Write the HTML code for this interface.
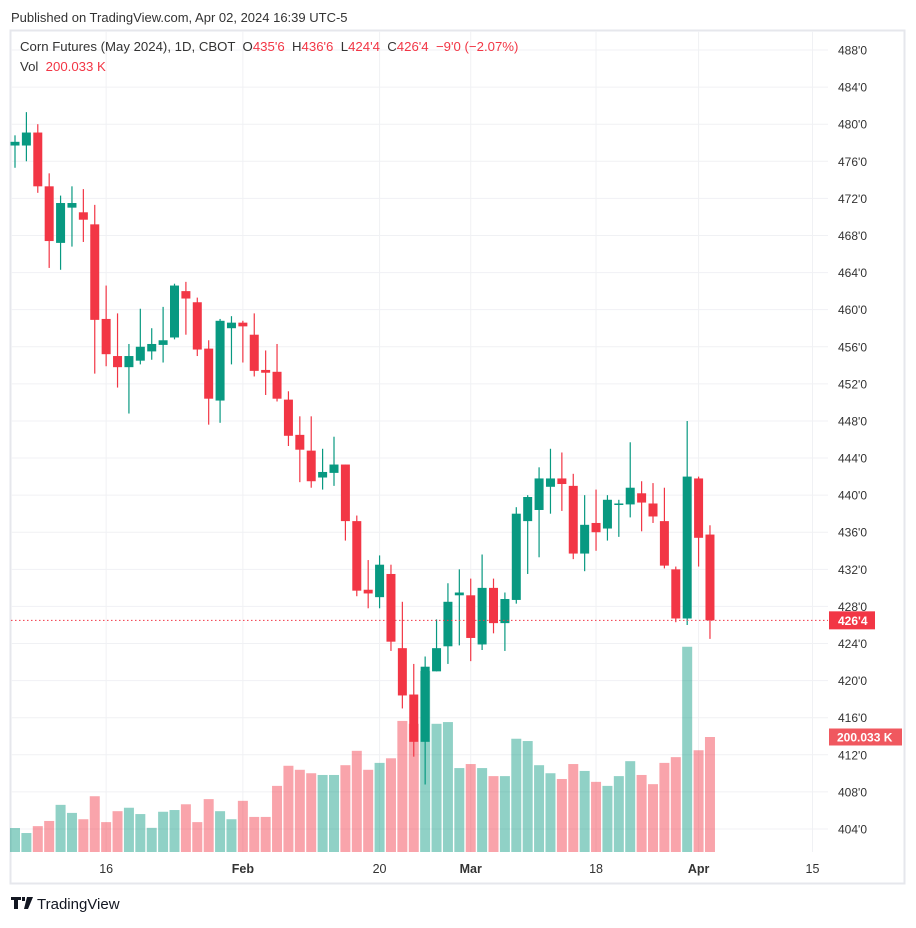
<!DOCTYPE html>
<html><head><meta charset="utf-8"><style>
body{margin:0;background:#fff;font-family:"Liberation Sans",sans-serif;}
svg text{font-family:"Liberation Sans",sans-serif;}
.pre{white-space:pre;}
</style></head><body>
<svg id="chart" width="916" height="923" viewBox="0 0 916 923" xmlns="http://www.w3.org/2000/svg">
<text x="11" y="22" font-size="13" fill="#333">Published on TradingView.com, Apr 02, 2024 16:39 UTC-5</text>
<rect x="10.5" y="30.5" width="894" height="853" fill="#fff" stroke="#e6e7ec" stroke-width="2"/>
<g id="grid"></g>
<g id="vol"></g>
<g id="candles"></g>
<g id="axes"></g>
<text class="pre" x="20" y="51" font-size="13.2" fill="#333">Corn Futures (May 2024), 1D, CBOT  O<tspan fill="#f23645">435'6</tspan>  H<tspan fill="#f23645">436'6</tspan>  L<tspan fill="#f23645">424'4</tspan>  C<tspan fill="#f23645">426'4</tspan>  <tspan fill="#f23645">−9'0 (−2.07%)</tspan></text>
<text class="pre" x="20" y="71" font-size="13.2" fill="#333">Vol  <tspan fill="#f23645">200.033 K</tspan></text>
<g>
<path d="M11 897h10v3h-3v9h-4v-9h-3z M22 897h3v4h-3z M27 897h6l-5 12h-4z" fill="#131722"/>
<text x="37" y="909" font-size="15" fill="#131722">TradingView</text>
</g>
</svg>
<script>
const opens=[477.7,477.7,479.1,473.3,467.2,471.0,470.5,469.2,459.0,455.0,453.8,454.5,455.5,456.2,457.0,462.0,460.8,455.8,450.2,458.0,458.6,457.3,453.5,453.3,450.3,446.5,444.8,441.9,442.4,443.3,437.2,429.8,429.0,431.5,423.5,418.5,413.4,421.0,423.7,429.2,429.2,423.9,430.0,426.2,428.7,437.2,438.4,440.9,441.8,441.0,433.7,437.0,436.4,439.0,439.0,440.2,439.1,437.2,432.0,426.7,441.8,435.75];
const highs=[478.8,481.3,480.0,474.7,472.3,473.3,473.0,471.3,462.6,459.6,456.3,460.1,458.0,460.3,462.8,463.0,461.3,456.7,459.0,459.3,458.8,459.6,455.6,456.3,451.2,448.5,448.5,445.0,446.3,443.3,437.8,433.0,433.5,432.5,428.5,421.8,422.6,426.6,430.5,432.0,431.0,433.6,431.0,429.5,438.7,440.0,443.0,445.0,444.6,442.3,440.0,440.6,440.0,439.5,445.7,441.5,441.3,440.8,432.3,448.0,442.0,436.75];
const lows=[475.3,476.0,472.6,464.5,464.3,466.8,467.3,453.1,453.9,451.6,448.8,454.1,454.6,454.3,456.8,457.3,455.0,447.6,447.8,454.1,454.3,452.8,450.8,450.1,445.3,441.4,440.8,440.6,441.0,435.1,429.1,427.8,427.8,423.2,417.0,411.8,408.8,421.0,421.8,423.8,422.1,423.3,425.1,423.2,428.3,431.5,433.3,438.0,438.3,433.1,431.8,434.0,435.1,435.5,437.6,436.1,437.0,432.1,426.3,426.0,432.3,424.5];
const closes=[478.1,479.1,473.3,467.4,471.5,471.5,469.7,458.9,455.2,453.8,455.0,456.0,456.3,456.7,462.6,461.2,455.7,450.4,458.8,458.6,458.2,453.4,453.2,450.4,446.4,444.9,441.5,442.5,443.3,437.2,429.7,429.4,432.5,424.2,418.4,413.4,421.5,423.5,428.5,429.5,424.6,430.0,426.2,428.8,438.0,439.8,441.8,441.8,441.2,433.7,436.8,436.0,439.5,439.1,440.8,439.2,437.7,432.4,426.7,442.0,435.4,426.5];
const volumes=[41.7,33,45,54,82,68,57,97,52,71,77,66,42,70,73,83,52,92,71,57,89,61,61,115,150,143,137,134,134,151,176,143,155,163,228,223,315,223,226,146,153,146,132,132,197,193,151,137,127,153,141,122,115,132,158,134,118,155,165,357,177,200.033];
const priceTicks=[404,408,412,416,420,424,428,432,436,440,444,448,452,456,460,464,468,472,476,480,484,488];
const dateLabels=["16","Feb","20","Mar","18","Apr","15"];
const dateIndex=[8,20,32,40,51,60,70];
const dateBold=[false,true,false,true,false,true,false];

const NS="http://www.w3.org/2000/svg";
const X0=15, DX=11.393, PLOT_L=11, PLOT_R=828, PLOT_T=31, PLOT_B=852;
const xs=i=>X0+i*DX;
const ys=p=>50+(488-p)*779/84;
const vs=v=>852-v*115/200.033;
const UP="#089981", DN="#f23645", UPV="rgba(8,153,129,0.45)", DNV="rgba(242,54,69,0.45)";
function mk(tag,attrs,parent){const e=document.createElementNS(NS,tag);for(const k in attrs)e.setAttribute(k,attrs[k]);parent.appendChild(e);return e;}
const grid=document.getElementById('grid'),axes=document.getElementById('axes'),vol=document.getElementById('vol'),cg=document.getElementById('candles');
priceTicks.forEach(p=>{
  const l=mk('line',{x1:PLOT_L,x2:PLOT_R,y1:ys(p),y2:ys(p),stroke:'#f0f1f4','stroke-width':1},grid);
  
  
  const t=mk('text',{x:838,y:ys(p)+4.5,'font-size':12,fill:'#333'},axes);
  t.textContent=p+"'0";
  
  
});
dateIndex.forEach((d,k)=>{
  const l=mk('line',{x1:xs(d),x2:xs(d),y1:PLOT_T,y2:PLOT_B,stroke:'#f0f1f4','stroke-width':1},grid);
  
  
  const t=mk('text',{x:xs(d),y:873,'font-size':12.5,fill:'#333','text-anchor':'middle','font-weight':dateBold[k]?'bold':'normal'},axes);
  t.textContent=dateLabels[k];
  
  
});
volumes.forEach((v,i)=>{
  const up=closes[i]>=opens[i];
  const r=mk('rect',{x:xs(i)-5,y:vs(v),width:10,height:PLOT_B-vs(v),fill:up?UPV:DNV},vol);
  
  
});
opens.forEach((o,i)=>{
  const c=closes[i],up=c>=o,col=up?UP:DN,x=xs(i);
  const g=mk('g',{},cg);
  
  
  mk('line',{x1:x,x2:x,y1:ys(highs[i]),y2:ys(lows[i]),stroke:col,'stroke-width':1.2},g);
  const top=ys(Math.max(o,c)),bot=ys(Math.min(o,c));
  mk('rect',{x:x-4.5,y:top,width:9,height:Math.max(1.5,bot-top),fill:col},g);
});
const lastY=ys(closes[closes.length-1]);
const pl=mk('line',{x1:PLOT_L,x2:PLOT_R,y1:lastY,y2:lastY,stroke:DN,'stroke-width':1,'stroke-dasharray':'1.5,2.5'},axes);


const pb=mk('rect',{x:829,y:lastY-9,width:46,height:18,fill:DN},axes);


const pt=mk('text',{x:838,y:lastY+4.5,'font-size':12,fill:'#fff','font-weight':'bold'},axes);
pt.textContent="426'4";


const vy=vs(volumes[volumes.length-1]);
const vb=mk('rect',{x:829,y:vy-8.5,width:73,height:17,fill:'#f0585f'},axes);


const vt=mk('text',{x:837,y:vy+4.5,'font-size':12,fill:'#fff','font-weight':'bold'},axes);
vt.textContent="200.033 K";


</script>
</body></html>
